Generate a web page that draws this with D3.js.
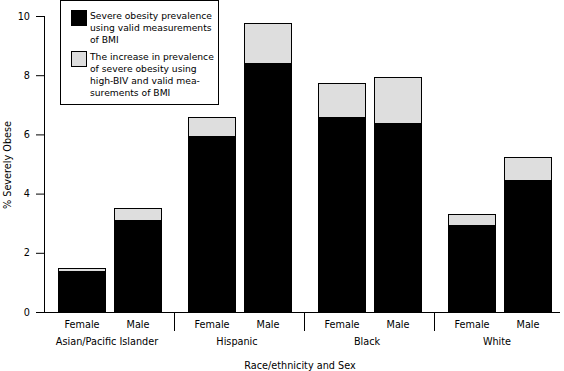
<!DOCTYPE html>
<html>
<head>
<meta charset="utf-8">
<script src="https://cdn.jsdelivr.net/npm/d3@7"></script>
<style>
  body { margin: 0; background: #fff; }
  svg { display: block; font-family: "DejaVu Sans", Verdana, sans-serif; }
</style>
</head>
<body>
<svg id="chart" width="564" height="371"></svg>
<script>
// data
var groups = ['Asian/Pacific Islander', 'Hispanic', 'Black', 'White'];
var sexes = ['Female', 'Male'];
var validBMI = [1.4, 3.1, 5.95, 8.4, 6.6, 6.4, 2.95, 4.45];   // black part
var withBIV = [1.5, 3.5, 6.6, 9.75, 7.75, 7.95, 3.3, 5.25];  // total with high-BIV
var yTicks = [0, 2, 4, 6, 8, 10];
var legendLines = [
  ['Severe obesity prevalence', 'using valid measurements', 'of BMI'],
  ['The increase in prevalence', 'of severe obesity using', 'high-BIV and valid mea-', 'surements of BMI']
];

(function() {
  var svg = d3.select('#chart');
  var left = 44, right = 564, plotTop = 16, plotBottom = 312;
  var fs = 9.7;

  var y = d3.scaleLinear().domain([0, 10]).range([plotBottom, plotTop]);
  var xGroup = d3.scaleBand().domain(groups).range([left, right]);
  var xSex = d3.scaleBand().domain(sexes).range([0, xGroup.bandwidth()])
    .paddingInner(0.143).paddingOuter(0.232).align(0.54);

  var rows = [];
  groups.forEach(function(g, gi) {
    sexes.forEach(function(s, si) {
      var i = gi * 2 + si;
      rows.push({ group: g, sex: s, valid: validBMI[i], total: withBIV[i] });
    });
  });

  // bars
  var bar = svg.append('g').selectAll('g').data(rows).enter().append('g')
    .attr('transform', function(d) { return 'translate(' + Math.round(xGroup(d.group) + xSex(d.sex)) + ',0)'; });

  bar.append('rect')
    .attr('x', 0.5)
    .attr('y', function(d) { return Math.round(y(d.total)) + 0.5; })
    .attr('width', Math.round(xSex.bandwidth()) - 1)
    .attr('height', function(d) { return plotBottom - Math.round(y(d.total)) - 0.5; })
    .attr('fill', '#dedede')
    .attr('stroke', '#000')
    .attr('stroke-width', 1);

  bar.append('rect')
    .attr('x', 0)
    .attr('y', function(d) { return Math.round(y(d.valid)); })
    .attr('width', Math.round(xSex.bandwidth()))
    .attr('height', function(d) { return plotBottom - Math.round(y(d.valid)); })
    .attr('fill', '#000');

  // y axis
  var yAxis = svg.append('g')
    .attr('transform', 'translate(' + left + ',0)')
    .call(d3.axisLeft(y).tickValues(yTicks).tickSize(8).tickPadding(6).tickSizeOuter(0));
  yAxis.select('.domain').attr('d', 'M0.5,' + plotTop + 'V' + plotBottom);
  yAxis.selectAll('.tick line').attr('stroke', '#000');
  yAxis.selectAll('text').attr('font-size', fs).attr('fill', '#000')
    .attr('font-family', '"DejaVu Sans", Verdana, sans-serif');

  // x axis line
  svg.append('line')
    .attr('x1', left).attr('x2', 560)
    .attr('y1', plotBottom + 0.5).attr('y2', plotBottom + 0.5)
    .attr('stroke', '#000');

  // group separators
  svg.append('g').selectAll('line').data(groups.slice(1)).enter().append('line')
    .attr('x1', function(d) { return Math.round(xGroup(d)) + 0.5; })
    .attr('x2', function(d) { return Math.round(xGroup(d)) + 0.5; })
    .attr('y1', plotBottom).attr('y2', 331)
    .attr('stroke', '#000');

  // sex labels
  svg.append('g').selectAll('text').data(rows).enter().append('text')
    .attr('x', function(d) { return xGroup(d.group) + xSex(d.sex) + xSex.bandwidth() / 2; })
    .attr('y', 328)
    .attr('text-anchor', 'middle')
    .attr('font-size', fs)
    .text(function(d) { return d.sex; });

  // group labels
  svg.append('g').selectAll('text').data(groups).enter().append('text')
    .attr('x', function(d) { return xGroup(d) + xGroup.bandwidth() / 2 - 2; })
    .attr('y', 345)
    .attr('text-anchor', 'middle')
    .attr('font-size', fs)
    .text(function(d) { return d; });

  svg.append('text')
    .attr('x', 300).attr('y', 369)
    .attr('text-anchor', 'middle')
    .attr('font-size', fs)
    .text('Race/ethnicity and Sex');

  svg.append('text')
    .attr('transform', 'translate(11,165) rotate(-90)')
    .attr('text-anchor', 'middle')
    .attr('font-size', fs)
    .text('% Severely Obese');

  // legend
  var legend = svg.append('g');
  legend.append('rect')
    .attr('x', 60.5).attr('y', 0.5).attr('width', 158).attr('height', 104)
    .attr('fill', '#fff').attr('stroke', '#000');
  var swatchFill = ['#000', '#dedede'];
  var swatchY = [10, 51];
  legendLines.forEach(function(lines, i) {
    legend.append('rect')
      .attr('x', 71.5).attr('y', swatchY[i] + 0.5).attr('width', 15).attr('height', 15)
      .attr('fill', swatchFill[i]).attr('stroke', '#000');
    legend.append('text')
      .attr('x', 90).attr('y', swatchY[i] + 9)
      .attr('font-size', 9.2)
      .selectAll('tspan').data(lines).enter().append('tspan')
      .attr('x', 90)
      .attr('dy', function(d, j) { return j === 0 ? 0 : 12; })
      .text(function(d) { return d; });
  });
})();
</script>
</body>
</html>
